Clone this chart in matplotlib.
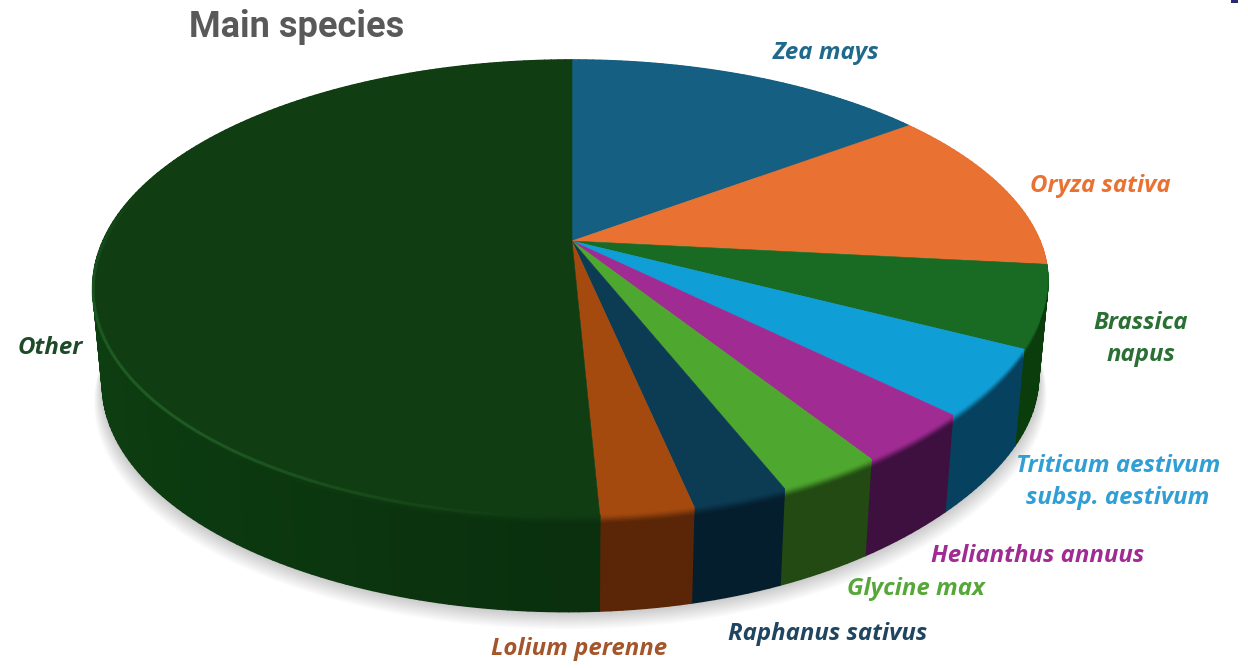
import numpy as np
import matplotlib
matplotlib.use('Agg')
import matplotlib.pyplot as plt
from matplotlib.collections import PolyCollection, LineCollection
from matplotlib.colors import to_rgb
from matplotlib.patches import Polygon, Rectangle

# valori (percentuali stimate)
species = ['Zea mays', 'Oryza sativa', 'Brassica\nnapus', 'Triticum aestivum\nsubsp. aestivum',
           'Helianthus annuus', 'Glycine max', 'Raphanus sativus', 'Lolium perenne', 'Other']
shares = [14.9, 11.8, 5.9, 4.8, 3.6, 3.0, 2.7, 2.6, 50.8]

top_colors = ['#156082', '#E97132', '#196B24', '#0F9ED5', '#A02B93', '#4EA72E', '#0C3C54', '#A54A0F', '#113D13']
wall_colors = ['#0A3A50', '#7A3A15', '#0B3D0C', '#06425F', '#3E1040', '#224A12', '#051E2E', '#5A2607', '#0A300D']
text_colors = ['#1F6A8C', '#E97132', '#2A7035', '#2F9FD5', '#A02B93', '#55A838', '#1F4560', '#A5552A', '#1E4A28']
label_x = [826, 1100, 1141, 1118, 1038, 916, 828, 579, 50]
label_y = [53, 186, 339, 482, 556, 589, 634, 649, 348]

# prospettiva del disco: pixel dell'immagine
CX, HUB_Y, K, A, C = 572, 241, 469, 168.7, -0.2044
DEPTH, BOTTOM_SCALE = 97, 0.98


def rim(t):
    # il bordo rientra un po' in basso a destra
    r = 1 - 0.022 * np.exp(-((np.degrees(t) - 132) / 28) ** 2)
    v = -np.cos(t) * r
    w = 1 + C * v
    return CX + K * np.sin(t) * r / w, (A * v + HUB_Y) / w


def rim_at(t, h):
    x, y = rim(t)
    s = 1 + (BOTTOM_SCALE - 1) * h
    return CX + (x - CX) * s, y + DEPTH * h


fig = plt.figure(figsize=(12.48, 6.68), dpi=100)
ax = fig.add_axes([0, 0, 1, 1])
ax.set_xlim(0, 1248)
ax.set_ylim(668, 0)
ax.axis('off')

# ombra morbida sotto il disco
all_t = np.radians(np.linspace(0, 360, 361))
for k in range(1, 19):
    x, y = rim_at(all_t, 1)
    sx = CX + (x - CX) * (1 + 0.001 * k)
    ax.add_patch(Polygon(np.column_stack([sx, y + k]), closed=True, fc='black', ec='none', alpha=0.012, zorder=1))

edges = np.cumsum([0] + shares) / np.sum(shares) * 2 * np.pi
levels = np.concatenate([np.linspace(0, 0.12, 9), [1.0]])

for i in range(len(shares)):
    ts = np.linspace(edges[i], edges[i + 1], max(3, int(np.degrees(edges[i + 1] - edges[i]))))
    top = np.array(to_rgb(top_colors[i]))
    wall = np.array(to_rgb(wall_colors[i]))

    polys, cols = [], []
    for h0, h1 in zip(levels[:-1], levels[1:]):
        s = min(1, h0 / 0.11)
        s = s * s * (3 - 2 * s)
        for t0, t1 in zip(ts[:-1], ts[1:]):
            x00, y00 = rim_at(t0, h0)
            x10, y10 = rim_at(t1, h0)
            x11, y11 = rim_at(t1, h1)
            x01, y01 = rim_at(t0, h1)
            polys.append([(x00, y00), (x10, y10), (x11, y11), (x01, y01)])
            shade = 1 + 0.3 * max(0, -np.sin((t0 + t1) / 2))
            cols.append(np.clip(top * (1 - s) + wall * shade * s, 0, 1))
    ax.add_collection(PolyCollection(polys, facecolors=cols, edgecolors=cols, linewidths=1.2, zorder=2 + 0.01 * i))

for i in range(len(shares)):
    ts = np.linspace(edges[i], edges[i + 1], max(3, int(np.degrees(edges[i + 1] - edges[i]))))
    x, y = rim(ts)
    ax.add_patch(Polygon(np.column_stack([np.r_[CX, x], np.r_[HUB_Y, y]]), closed=True,
                         fc=top_colors[i], ec=top_colors[i], lw=0.4, zorder=3))

# riflesso sul bordo della fetta Other
ts = np.radians(np.linspace(183, 285, 80))
x, y = rim_at(ts, 0.025)
segs = [[(x[j], y[j]), (x[j + 1], y[j + 1])] for j in range(len(ts) - 1)]
alpha = np.sin(np.linspace(0, np.pi, len(segs))) * 0.75
ax.add_collection(LineCollection(segs, colors=[(0.14, 0.40, 0.16, a) for a in alpha], linewidths=2.2, zorder=4))

for name, lx, ly, col in zip(species, label_x, label_y, text_colors):
    ax.text(lx, ly, name, color=col, family='Open Sans', style='italic', weight='bold', fontsize=17.3,
            ha='center', va='center', linespacing=1.4, zorder=5)

ax.text(297, 27, 'Main species', color='#595959', family='Roboto', weight='bold', fontsize=26,
        ha='center', va='center', zorder=5)

ax.add_patch(Rectangle((1231, 0), 7, 3, fc='#2B2A6E', ec='none', zorder=5))

fig.savefig('out.png', dpi=100)
plt.close(fig)
